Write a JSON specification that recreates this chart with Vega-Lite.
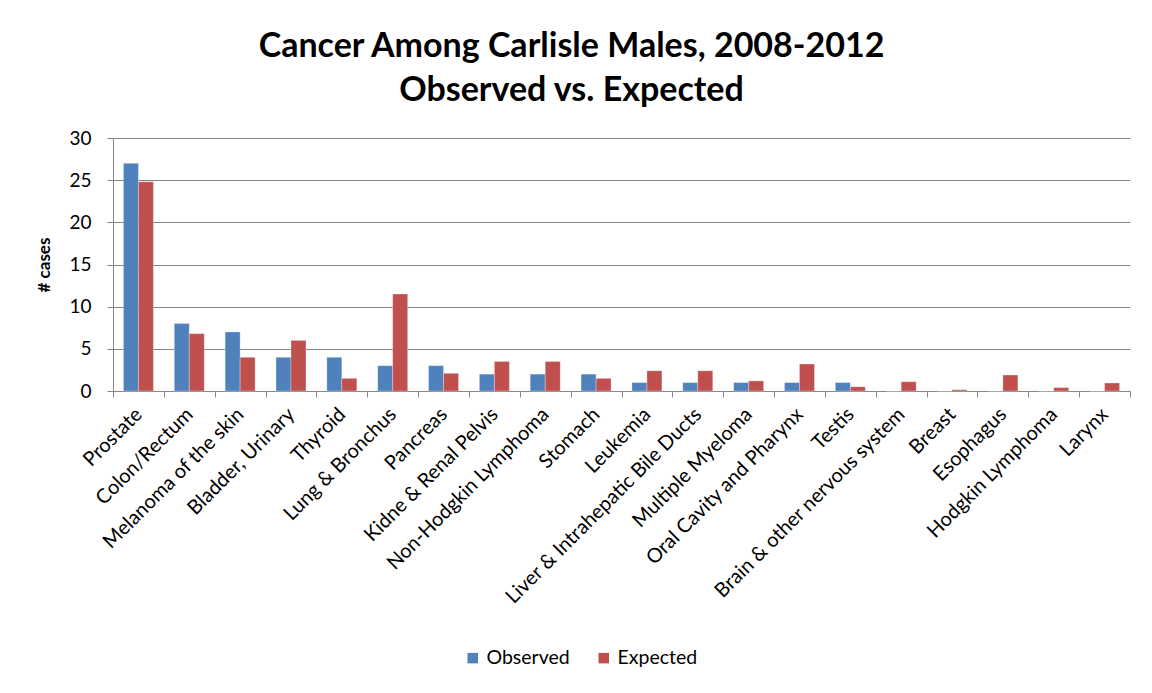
{
  "$schema": "https://vega.github.io/schema/vega-lite/v6.json",
  "autosize": {"type": "none"},
  "width": 1017,
  "height": 253,
  "padding": {"left": 113, "top": 138, "right": 22, "bottom": 302},
  "background": "white",
  "title": {
    "text": ["Cancer Among Carlisle Males, 2008-2012", "Observed vs. Expected"],
    "font": "Lato",
    "fontSize": 34,
    "fontWeight": "bold",
    "color": "#000000",
    "lineHeight": 44,
    "anchor": "middle",
    "dx": -50,
    "offset": 21
  },
  "config": {
    "font": "Lato",
    "view": {"stroke": null}
  },
  "data": {
    "values": [
      {"cancer": "Prostate", "series": "Observed", "cases": 27},
      {"cancer": "Prostate", "series": "Expected", "cases": 24.8},
      {"cancer": "Colon/Rectum", "series": "Observed", "cases": 8},
      {"cancer": "Colon/Rectum", "series": "Expected", "cases": 6.8},
      {"cancer": "Melanoma of the skin", "series": "Observed", "cases": 7},
      {"cancer": "Melanoma of the skin", "series": "Expected", "cases": 4.0},
      {"cancer": "Bladder, Urinary", "series": "Observed", "cases": 4},
      {"cancer": "Bladder, Urinary", "series": "Expected", "cases": 6.0},
      {"cancer": "Thyroid", "series": "Observed", "cases": 4},
      {"cancer": "Thyroid", "series": "Expected", "cases": 1.5},
      {"cancer": "Lung & Bronchus", "series": "Observed", "cases": 3},
      {"cancer": "Lung & Bronchus", "series": "Expected", "cases": 11.5},
      {"cancer": "Pancreas", "series": "Observed", "cases": 3},
      {"cancer": "Pancreas", "series": "Expected", "cases": 2.1},
      {"cancer": "Kidne & Renal Pelvis", "series": "Observed", "cases": 2},
      {"cancer": "Kidne & Renal Pelvis", "series": "Expected", "cases": 3.5},
      {"cancer": "Non-Hodgkin Lymphoma", "series": "Observed", "cases": 2},
      {"cancer": "Non-Hodgkin Lymphoma", "series": "Expected", "cases": 3.5},
      {"cancer": "Stomach", "series": "Observed", "cases": 2},
      {"cancer": "Stomach", "series": "Expected", "cases": 1.5},
      {"cancer": "Leukemia", "series": "Observed", "cases": 1},
      {"cancer": "Leukemia", "series": "Expected", "cases": 2.4},
      {"cancer": "Liver & Intrahepatic Bile Ducts", "series": "Observed", "cases": 1},
      {"cancer": "Liver & Intrahepatic Bile Ducts", "series": "Expected", "cases": 2.4},
      {"cancer": "Multiple Myeloma", "series": "Observed", "cases": 1},
      {"cancer": "Multiple Myeloma", "series": "Expected", "cases": 1.2},
      {"cancer": "Oral Cavity and Pharynx", "series": "Observed", "cases": 1},
      {"cancer": "Oral Cavity and Pharynx", "series": "Expected", "cases": 3.2},
      {"cancer": "Testis", "series": "Observed", "cases": 1},
      {"cancer": "Testis", "series": "Expected", "cases": 0.5},
      {"cancer": "Brain & other nervous system", "series": "Observed", "cases": 0},
      {"cancer": "Brain & other nervous system", "series": "Expected", "cases": 1.1},
      {"cancer": "Breast", "series": "Observed", "cases": 0},
      {"cancer": "Breast", "series": "Expected", "cases": 0.15},
      {"cancer": "Esophagus", "series": "Observed", "cases": 0},
      {"cancer": "Esophagus", "series": "Expected", "cases": 1.9},
      {"cancer": "Hodgkin Lymphoma", "series": "Observed", "cases": 0},
      {"cancer": "Hodgkin Lymphoma", "series": "Expected", "cases": 0.4},
      {"cancer": "Larynx", "series": "Observed", "cases": 0},
      {"cancer": "Larynx", "series": "Expected", "cases": 0.95}
    ]
  },
  "mark": {"type": "bar", "stroke": "white", "strokeWidth": 0.5, "strokeOpacity": 0.6},
  "encoding": {
    "x": {
      "field": "cancer",
      "type": "nominal",
      "sort": null,
      "scale": {"paddingInner": 0, "paddingOuter": 0},
      "axis": {
        "title": null,
        "labelAngle": -45,
        "labelAlign": "right",
        "labelBaseline": "middle",
        "labelFontSize": 20,
        "labelLimit": 0,
        "labelColor": "#000000",
        "labelPadding": 14,
        "tickBand": "extent",
        "tickSize": 6,
        "tickColor": "#868686",
        "domainColor": "#868686",
        "grid": false
      }
    },
    "xOffset": {
      "field": "series",
      "type": "nominal",
      "sort": ["Observed", "Expected"],
      "scale": {"paddingInner": 0, "paddingOuter": 0.695}
    },
    "y": {
      "field": "cases",
      "type": "quantitative",
      "scale": {"domain": [0, 30]},
      "axis": {
        "title": "# cases",
        "titleFontSize": 17,
        "titleFontWeight": "bold",
        "titleColor": "#000000",
        "titlePadding": 15,
        "values": [0, 5, 10, 15, 20, 25, 30],
        "labelFontSize": 19,
        "labelColor": "#000000",
        "labelPadding": 16,
        "tickSize": 6,
        "tickColor": "#868686",
        "domainColor": "#868686",
        "gridColor": "#868686",
        "gridWidth": 1
      }
    },
    "color": {
      "field": "series",
      "type": "nominal",
      "sort": ["Observed", "Expected"],
      "scale": {"domain": ["Observed", "Expected"], "range": ["#4F81BD", "#C0504D"]},
      "legend": {
        "title": null,
        "orient": "none",
        "direction": "horizontal",
        "legendX": 350,
        "legendY": 510,
        "symbolType": "square",
        "symbolSize": 110,
        "symbolStrokeWidth": 0,
        "labelFontSize": 19.5,
        "labelColor": "#000000",
        "columnPadding": 24
      }
    }
  }
}
